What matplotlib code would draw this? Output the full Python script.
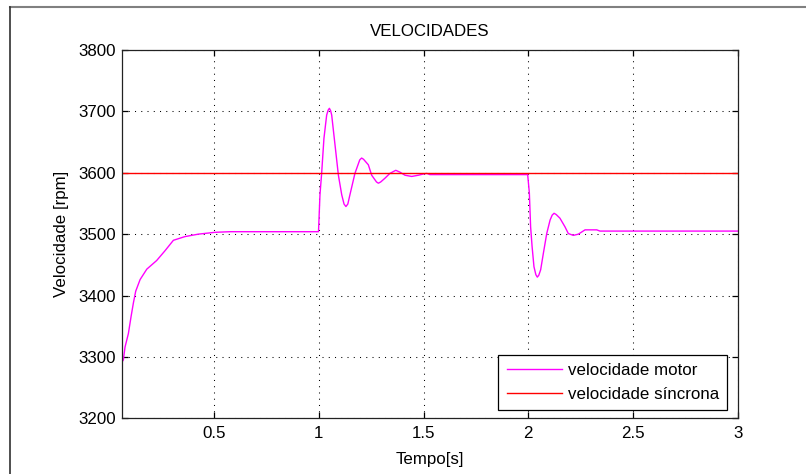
import matplotlib
matplotlib.use("Agg")
import matplotlib.pyplot as plt
from matplotlib.lines import Line2D

# ---- data ----
t_motor = [0.062, 0.066, 0.074, 0.090, 0.103, 0.114, 0.125, 0.146, 0.178, 0.225,
           0.265, 0.305, 0.36, 0.424, 0.504, 0.576, 0.70, 0.85, 0.998,
           1.005, 1.013, 1.024, 1.037, 1.044, 1.050, 1.056, 1.061, 1.077, 1.093, 1.109,
           1.120, 1.129, 1.138, 1.148, 1.172, 1.195, 1.204, 1.213, 1.236, 1.252,
           1.275, 1.284, 1.295, 1.315, 1.339, 1.367, 1.387,
           1.411, 1.443, 1.475, 1.499, 1.515, 1.53, 1.75, 1.997,
           2.005, 2.011, 2.018, 2.027, 2.036, 2.043, 2.050, 2.059, 2.072, 2.088, 2.104,
           2.114, 2.123, 2.133, 2.151, 2.175, 2.191, 2.215, 2.239, 2.271, 2.327, 2.342,
           2.6, 3.0]
v_motor = [3293, 3295, 3316, 3338, 3366, 3388, 3407, 3426, 3443, 3457,
           3473, 3490, 3496, 3500, 3503, 3504, 3504, 3504, 3504,
           3564, 3599, 3656, 3694, 3702, 3705, 3701, 3694, 3645, 3596, 3564,
           3549, 3545, 3549, 3564, 3599, 3621, 3624, 3622, 3613, 3596,
           3585, 3583, 3585, 3591, 3599, 3604, 3601,
           3596, 3594, 3596, 3598, 3599, 3597, 3597, 3597,
           3567, 3512, 3480, 3447, 3434, 3430, 3433, 3442, 3469, 3501, 3523,
           3531, 3534, 3532, 3526, 3512, 3501, 3498, 3500, 3507, 3507, 3505,
           3505, 3505]
t_sync = [0.061, 3.0]
v_sync = [3600, 3600]

x_ticks = [0.5, 1, 1.5, 2, 2.5, 3]
x_tick_labels = ["0.5", "1", "1.5", "2", "2.5", "3"]
y_ticks = [3200, 3300, 3400, 3500, 3600, 3700, 3800]
y_tick_labels = ["3200", "3300", "3400", "3500", "3600", "3700", "3800"]

title = "VELOCIDADES"
xlabel = "Tempo[s]"
ylabel = "Velocidade [rpm]"
legend_labels = ["velocidade motor", "velocidade síncrona"]

plt.rcParams['font.family'] = ['Liberation Sans', 'DejaVu Sans']
FS = 12.2

fig = plt.figure(figsize=(8.06, 4.74), dpi=100)
fig.patch.set_facecolor("white")
W, H = 806, 474
ax = fig.add_axes([122.3 / W, 1 - 418.3 / H, (737.7 - 122.3) / W, (418.3 - 50) / H])

ax.plot(t_motor, v_motor, color="#FF00FF", lw=1.0, label=legend_labels[0])
ax.plot(t_sync, v_sync, color="#FF0000", lw=1.0, label=legend_labels[1])

ax.set_xlim(0.061, 3.0)
ax.set_ylim(3200, 3800)
ax.set_xticks(x_ticks)
ax.set_xticklabels(x_tick_labels)
ax.set_yticks(y_ticks)
ax.set_yticklabels(y_tick_labels)

ax.grid(True, color="black", linestyle=(0, (1, 5)), linewidth=0.75)
ax.tick_params(direction="in", length=4.5, width=0.9, top=True, right=True,
               labelsize=FS, pad=4.5, colors="black")
ax.tick_params(axis="x", pad=5.5)
for s in ax.spines.values():
    s.set_color("#222222")
    s.set_linewidth(0.9)

ax.set_title(title, fontsize=FS, pad=10)
ax.set_xlabel(xlabel, fontsize=FS, labelpad=8)
ax.set_ylabel(ylabel, fontsize=FS, labelpad=7)

leg = ax.legend(loc="lower right", bbox_to_anchor=(0.983, 0.0225), borderaxespad=0,
                fontsize=FS, fancybox=False, framealpha=1, edgecolor="black",
                handlelength=3.3, handletextpad=0.3, borderpad=0.5, labelspacing=0.5)
leg.get_frame().set_linewidth(0.9)

# screenshot frame lines
fig.add_artist(Line2D([10 / W, 1], [1 - 7.3 / H, 1 - 7.3 / H], color="#808080", lw=1.5,
                      transform=fig.transFigure))
fig.add_artist(Line2D([10 / W, 10 / W], [0, 1 - 7.3 / H], color="#303030", lw=1.2,
                      transform=fig.transFigure))

fig.savefig("out.png", dpi=100)
